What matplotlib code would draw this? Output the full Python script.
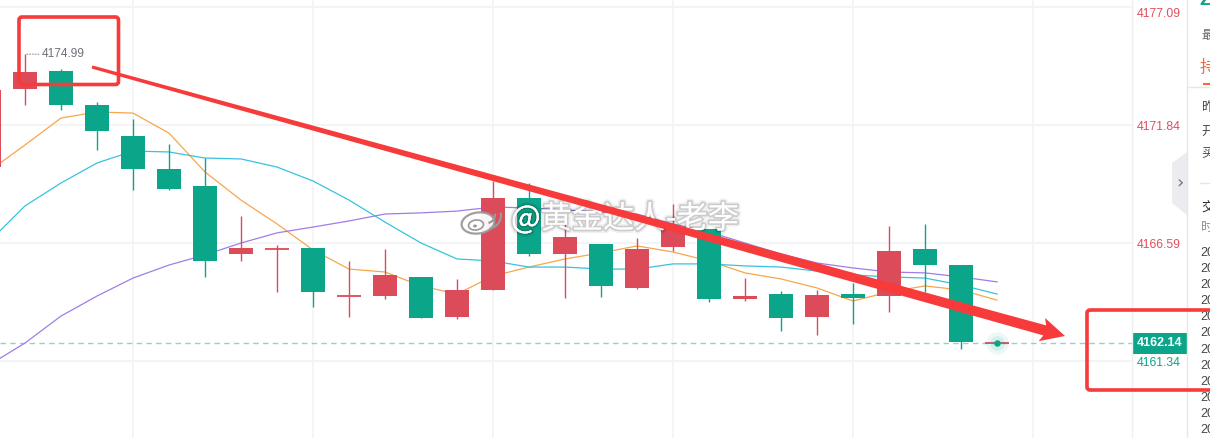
import matplotlib.pyplot as plt
import matplotlib.patheffects as pe
import matplotlib.transforms as mtrans
import numpy as np
from matplotlib.patches import Rectangle, Polygon, FancyBboxPatch, Ellipse, Arc

plt.rcParams['font.family'] = ['Liberation Sans', 'Noto Sans CJK SC', 'DejaVu Sans']

# candle data, index -1 is the half hidden one at the left edge
idx = list(range(-1, 28))
opens = [4169.97, 4173.44, 4174.24, 4172.73, 4171.35, 4169.88, 4169.13, 4166.10, 4166.30,
         4166.37, 4164.22, 4164.23, 4165.08, 4163.30, 4164.50, 4168.59, 4166.10, 4166.55,
         4164.59, 4166.41, 4167.21, 4164.10, 4164.32, 4163.30, 4164.32, 4164.23, 4166.32,
         4165.61, 4162.14]
closes = [4173.40, 4174.20, 4172.73, 4171.57, 4169.88, 4168.99, 4165.79, 4166.37, 4166.33,
          4164.41, 4164.24, 4165.17, 4163.25, 4164.50, 4168.59, 4166.10, 4166.86, 4164.68,
          4166.32, 4167.21, 4164.10, 4164.23, 4163.25, 4164.28, 4164.14, 4166.23, 4165.61,
          4162.19, 4162.14]
highs = [4173.60, 4174.99, 4174.33, 4172.86, 4172.11, 4170.99, 4170.37, 4167.79, 4166.50,
         4166.37, 4165.79, 4166.32, 4165.08, 4164.99, 4169.35, 4169.26, 4167.44, 4166.55,
         4166.81, 4168.33, 4167.21, 4165.03, 4164.45, 4164.50, 4164.81, 4167.35, 4167.44,
         4165.61, 4162.14]
lows = [4169.50, 4172.73, 4172.51, 4170.73, 4168.95, 4168.95, 4165.08, 4165.79, 4164.41,
        4163.74, 4163.30, 4164.10, 4163.25, 4163.21, 4164.50, 4166.01, 4164.14, 4164.19,
        4164.54, 4166.23, 4163.97, 4164.01, 4162.67, 4162.50, 4162.99, 4163.52, 4164.41,
        4161.87, 4162.14]

ma_orange = [4169.79, 4170.95, 4172.15, 4172.42, 4172.37, 4171.48, 4169.75, 4168.50, 4167.44,
             4166.28, 4165.43, 4165.30, 4164.68, 4164.32, 4165.12, 4165.52, 4165.88, 4166.15,
             4166.46, 4166.19, 4165.79, 4165.26, 4164.99, 4164.59, 4164.01, 4164.41, 4164.68,
             4164.50, 4164.05]
ma_cyan = [4166.64, 4168.24, 4169.26, 4170.15, 4170.68, 4170.64, 4170.37, 4170.33, 4169.97,
           4169.35, 4168.50, 4167.52, 4166.59, 4165.88, 4165.79, 4165.52, 4165.52, 4165.43,
           4165.43, 4165.66, 4165.66, 4165.57, 4165.52, 4165.34, 4165.17, 4165.08, 4165.03,
           4164.72, 4164.32]
ma_purple = [4161.16, 4162.14, 4163.34, 4164.23, 4165.03, 4165.61, 4166.06, 4166.59, 4167.04,
             4167.30, 4167.57, 4167.88, 4167.93, 4168.01, 4168.19, 4168.15, 4168.06, 4167.97,
             4167.88, 4167.44, 4167.08, 4166.59, 4166.10, 4165.70, 4165.48, 4165.30, 4165.26,
             4165.08, 4164.86]

y_ticks = [4177.09, 4171.84, 4166.59, 4161.34]
last_price = 4162.14
peak_label = "4174.99"

RED = "#db4b59"
GREEN = "#0ba68a"

fig = plt.figure(figsize=(12.1, 4.38), dpi=100)
fig.patch.set_facecolor("white")
ax = fig.add_axes([0, 0, 1132 / 1210, 1])
ax.set_xlim(-25 / 36, 1107 / 36)
ppu = 118 / 5.25  # pixels per price unit
ax.set_ylim(4161.34 - 77 / ppu, 4161.34 + 361 / ppu)
for s in ax.spines.values():
    s.set_visible(False)
ax.set_xticks([])
ax.set_yticks([])

# grid
for v in y_ticks:
    ax.axhline(v, color="#f1f2f4", lw=1.2, zorder=0)
for k in range(3, 30, 5):
    ax.axvline(k, color="#f3f4f6", lw=1.2, zorder=0)

# moving averages
ax.plot(idx, ma_orange, color="#f7a64c", lw=0.9, zorder=3)
ax.plot(idx, ma_cyan, color="#36c3df", lw=0.9, zorder=3)
ax.plot(idx, ma_purple, color="#a07de6", lw=0.9, zorder=3)

# candles
w = 0.64
for k, o, c, h, l in zip(idx, opens, closes, highs, lows):
    col = RED if c >= o else GREEN
    ax.vlines(k, l, h, color=col, lw=1.0, zorder=4)
    if abs(c - o) < 0.06:
        ax.hlines((o + c) / 2, k - w / 2, k + w / 2, color=col, lw=1.3, zorder=4)
    else:
        ax.bar(k, abs(c - o), bottom=min(o, c), width=w, color=col, lw=0, zorder=4)

# last price line and marker
ax.axhline(last_price, color="#8fd5c5", lw=1, ls=(0, (4, 3)), zorder=2)
ax.scatter([idx[-1]], [last_price], s=260, color=GREEN, alpha=0.08, lw=0, zorder=5)
ax.scatter([idx[-1]], [last_price], s=110, color=GREEN, alpha=0.10, lw=0, zorder=5)
ax.scatter([idx[-1]], [last_price], s=22, color=GREEN, lw=0, zorder=6)

# peak label
ax.annotate(peak_label, xy=(0, highs[1]), xytext=(12, 0), textcoords="offset points",
            fontsize=8.6, color="#6e7079", va="center", ha="left",
            arrowprops=dict(arrowstyle="-", color="#9a9ca3", lw=0.8, ls=(0, (1, 1.5)),
                            shrinkA=0, shrinkB=0))

# right axis labels
ytr = ax.get_yaxis_transform()
for i, v in enumerate(y_ticks):
    off = -7 if i == 0 else -2
    tr = mtrans.offset_copy(ytr, fig=fig, y=off, units="dots")
    col = GREEN if v < last_price else "#e04f5c"
    ax.text(1137 / 1132, v, f"{v:.2f}", transform=tr, fontsize=8.8, color=col,
            ha="left", va="center", clip_on=False)
ax.text(1137 / 1132, last_price, f"{last_price:.2f}", transform=ytr, fontsize=9, color="white",
        fontweight="bold", ha="left", va="center", clip_on=False, zorder=10,
        bbox=dict(boxstyle="square,pad=0.36", fc=GREEN, ec="none"))

# overlay in pixel coordinates: panel, watermark, hand drawn marks
ov = fig.add_axes([0, 0, 1, 1])
ov.set_xlim(0, 1210)
ov.set_ylim(438, 0)
ov.axis("off")
ov.patch.set_alpha(0)

ov.plot([1132, 1132], [0, 438], color="#eeeff2", lw=1)
ov.add_patch(Rectangle((1187, 0), 30, 438, fc="white", ec="none"))
ov.plot([1187, 1187], [0, 438], color="#e6e7ea", lw=1)
ov.add_patch(Polygon([[1172, 163], [1187, 152], [1187, 215], [1172, 203]],
                     closed=True, fc="#ececf0", ec="none"))
ov.text(1179.5, 183, "›", fontsize=13, color="#70737c", ha="center", va="center",
        family=["DejaVu Sans"])

cjk = ["Noto Sans CJK SC", "DejaVu Sans"]
ov.text(1199, 9, "Z", fontsize=15, color=GREEN, fontweight="bold", ha="left", va="bottom")
ov.text(1201, 35, "最", fontsize=9, color="#666870", ha="left", va="center", family=cjk)
ov.text(1200, 68, "持", fontsize=12.5, color="#f26a3c", ha="left", va="center", family=cjk)
ov.plot([1204, 1210], [83.5, 83.5], color="#f26a3c", lw=1.5)
ov.plot([1187, 1210], [87, 87], color="#e6e7ea", lw=1)
for yy, ch in [(108, "昨"), (131, "开"), (153, "买")]:
    ov.text(1201, yy, ch, fontsize=9, color="#44464d", ha="left", va="center", family=cjk)
ov.plot([1200, 1210], [183, 183], color="#e6e7ea", lw=1)
ov.text(1201, 208, "交", fontsize=9.5, color="#25272d", ha="left", va="center", family=cjk)
ov.text(1201, 228, "时", fontsize=9, color="#8a8c94", ha="left", va="center", family=cjk)
for j in range(12):
    ov.text(1200, 253 + j * 16.1, "20", fontsize=9, color="#44464d", ha="left", va="center")

# watermark
glow = [pe.withStroke(linewidth=5, foreground=(0, 0, 0, 0.06)),
        pe.withStroke(linewidth=2.5, foreground=(0, 0, 0, 0.15))]
ov.text(511, 219, "@黄金达人-老李", fontsize=22.5, color="white", ha="left", va="center",
        family=cjk, path_effects=glow, zorder=8)
ov.add_patch(Ellipse((478, 223), 33, 21, angle=-8, fc="white", ec="#9a9a9a", lw=1.6,
                     alpha=0.95, zorder=8))
ov.add_patch(Ellipse((476, 225), 15, 10, angle=-8, fc="white", ec="#9a9a9a", lw=1.2, zorder=8))
ov.add_patch(Ellipse((475, 226), 4, 3, fc="#9a9a9a", ec="none", zorder=8))
ov.add_patch(Arc((487, 215), 16, 16, theta1=-10, theta2=80, ec="#9a9a9a", lw=1.6, zorder=8))
ov.add_patch(Arc((487, 215), 28, 28, theta1=-10, theta2=80, ec="#9a9a9a", lw=1.6, zorder=8))

# red arrow
RED_MARK = "#f73a3a"
S = np.array([92.0, 67.0])
T = np.array([1065.0, 336.0])
u = (T - S) / np.linalg.norm(T - S)
n = np.array([-u[1], u[0]])
B = T - u * 21
pts = [S + n * 1.6, B + n * 5.2, B - u * 3 + n * 12, T, B - u * 3 - n * 12, B - n * 5.2, S - n * 1.6]
ov.add_patch(Polygon(pts, closed=True, fc=RED_MARK, ec="none", zorder=9))

# red boxes
ov.add_patch(FancyBboxPatch((19, 17), 99.5, 67.5, boxstyle="round,pad=0,rounding_size=3",
                            fc="none", ec=RED_MARK, lw=2.6, zorder=9))
ov.add_patch(FancyBboxPatch((1087, 310), 160, 80, boxstyle="round,pad=0,rounding_size=3",
                            fc="none", ec=RED_MARK, lw=2.6, zorder=9))

fig.savefig("out.png", dpi=100, facecolor="white")
